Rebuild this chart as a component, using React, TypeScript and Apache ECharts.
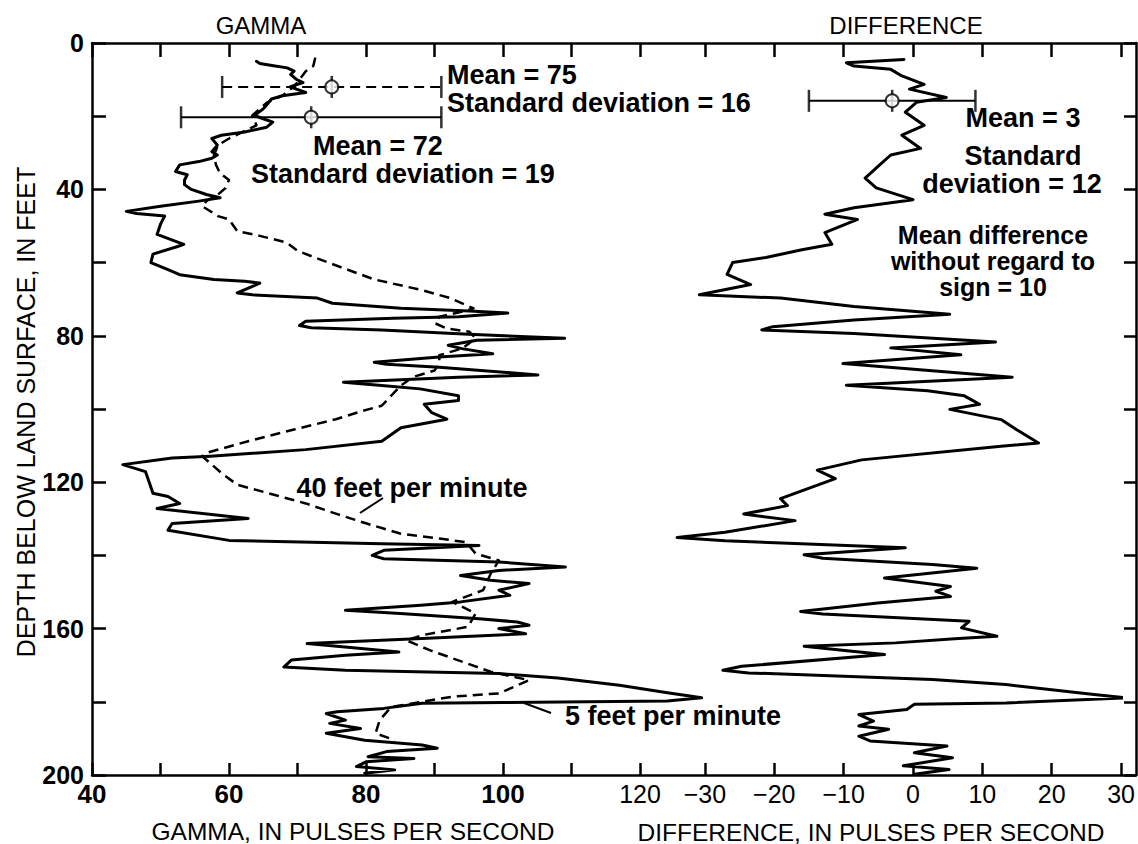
import React, { useEffect, useRef } from "react";
import * as echarts from "echarts";

const FONT = "'Liberation Sans', Arial, Helvetica, sans-serif";

// ---- data: [depth (feet), value] ----
// Gamma log run at 5 feet per minute (solid)
const gamma5ft: [number, number][] = [
  [5.0, 64.0], [5.6, 64.5], [6.2, 66.5], [6.8, 68.5], [7.7, 69.5], [8.6, 69.0], [9.9, 69.8],
  [10.8, 70.8], [12.0, 68.9], [13.5, 71.2], [14.4, 67.8], [15.3, 66.2], [16.7, 65.6], [18.0, 65.0],
  [19.8, 63.7], [20.7, 65.0], [21.6, 66.4], [23.0, 65.5], [24.3, 62.3], [25.2, 58.9], [26.1, 57.5],
  [27.9, 58.3], [29.7, 57.5], [30.6, 58.3], [31.5, 57.5], [32.4, 55.6], [33.3, 52.8], [35.1, 52.2],
  [36.0, 53.9], [37.5, 53.5], [38.7, 53.5], [40.0, 54.5], [41.4, 56.7], [42.3, 58.7], [43.2, 55.6],
  [44.6, 50.0], [46.0, 45.0], [46.6, 46.5], [47.3, 50.6], [49.5, 50.0], [52.3, 49.5], [55.0, 53.4],
  [55.6, 52.5], [57.7, 48.9], [60.0, 48.6], [61.9, 51.1], [63.3, 52.8], [64.6, 57.8], [65.1, 62.3],
  [65.6, 64.5], [68.3, 61.2], [68.8, 63.4], [69.7, 72.9], [71.1, 75.1], [72.5, 85.1], [73.2, 95.1],
  [73.8, 100.7], [74.8, 93.5], [75.2, 84.0], [76.0, 71.2], [77.2, 70.3], [77.8, 72.0], [78.4, 82.3],
  [79.6, 95.0], [80.7, 109.0], [81.2, 96.2], [82.6, 92.0], [83.5, 94.0], [84.9, 98.5], [85.8, 90.7],
  [87.2, 81.2], [87.8, 83.0], [88.6, 90.7], [90.7, 105.1], [91.3, 93.5], [92.7, 76.7], [93.6, 82.3],
  [94.5, 87.9], [96.4, 93.5], [97.7, 93.5], [98.7, 88.5], [101.0, 89.6], [102.8, 91.8], [105.1, 85.1],
  [108.8, 82.3], [111.1, 71.2], [112.9, 57.3], [113.4, 51.7], [115.2, 44.5], [117.1, 47.8],
  [120.3, 48.4], [123.0, 48.9], [123.9, 51.1], [125.8, 52.8], [127.2, 49.5], [129.9, 62.8],
  [131.3, 51.7], [133.1, 51.1], [135.9, 60.0], [136.8, 82.3], [137.3, 96.5], [138.6, 82.6],
  [140.0, 80.9], [140.9, 82.6], [141.8, 99.4], [143.2, 109.1], [144.1, 99.4], [145.5, 93.8],
  [146.8, 98.2], [147.7, 103.8], [149.5, 99.4], [150.9, 101.0], [152.7, 93.8], [153.6, 88.0],
  [155.0, 77.0], [155.9, 85.0], [157.3, 96.5], [158.2, 102.1], [159.1, 103.8], [160.0, 99.4],
  [161.4, 103.3], [162.7, 88.2], [164.1, 71.4], [166.4, 84.8], [167.3, 77.0], [168.6, 69.1],
  [170.5, 68.0], [171.4, 77.0], [172.3, 99.4], [173.5, 108.0], [175.5, 117.0], [177.5, 124.0],
  [178.9, 129.0], [179.8, 124.0], [180.2, 100.0], [180.4, 88.2], [181.8, 82.6], [182.7, 75.8],
  [183.2, 74.2], [185.0, 77.0], [185.9, 74.7], [187.3, 79.2], [188.6, 74.2], [190.5, 79.8],
  [191.8, 88.2], [192.7, 90.4], [193.6, 83.0], [195.0, 80.3], [195.5, 87.0], [196.4, 80.0],
  [197.7, 78.6], [198.6, 84.2], [199.5, 79.8],
];

// Gamma log run at 40 feet per minute (dashed)
const gamma40ft: [number, number][] = [
  [4.0, 72.6], [6.3, 72.3], [7.7, 71.2], [10.8, 70.0], [12.6, 69.0], [14.4, 67.8], [16.2, 65.6],
  [18.0, 64.5], [19.8, 63.4], [22.5, 64.0], [26.1, 60.0], [27.9, 58.4], [30.6, 57.8], [33.3, 58.1],
  [35.6, 58.7], [37.4, 60.0], [39.6, 59.5], [41.4, 58.4], [43.2, 56.7], [44.6, 56.1], [47.3, 58.4],
  [48.2, 60.0], [51.4, 61.2], [52.7, 64.5], [54.5, 68.4], [56.8, 70.0], [60.0, 74.5], [64.6, 81.2],
  [67.4, 87.9], [69.7, 92.3], [72.5, 95.7], [73.2, 94.5], [74.8, 90.7], [76.6, 90.1], [78.0, 91.8],
  [78.9, 95.1], [80.7, 96.0], [83.5, 94.0], [85.3, 90.7], [87.6, 90.7], [89.5, 90.0], [91.3, 86.8],
  [93.6, 85.1], [99.1, 82.3], [100.5, 79.5], [102.8, 75.6], [105.6, 69.5], [108.8, 62.8],
  [112.0, 56.7], [112.9, 56.1], [117.5, 58.9], [120.7, 61.2], [123.5, 66.7], [125.8, 71.2],
  [128.6, 75.6], [131.3, 80.1], [134.1, 85.1], [135.4, 90.7], [136.4, 94.6], [139.5, 96.0],
  [141.4, 99.4], [145.0, 98.2], [149.5, 97.1], [152.7, 92.6], [155.9, 96.0], [159.5, 94.9],
  [161.8, 88.2], [163.2, 85.9], [165.9, 89.3], [171.8, 98.2], [174.1, 103.8], [177.7, 99.4],
  [178.6, 92.6], [181.4, 83.7], [185.0, 82.0], [188.6, 81.4], [190.5, 84.2],
];

// Difference between the two logs
const difference: [number, number][] = [
  [4.5, -1.3], [5.4, -9.6], [6.3, -8.5], [7.2, -3.2], [9.0, -1.6], [11.3, 1.6], [12.6, -0.5],
  [14.9, 4.8], [16.2, 0.5], [18.9, -1.1], [22.5, 1.6], [25.2, -1.6], [28.8, 1.1], [30.6, -3.2],
  [33.3, -4.8], [36.9, -6.9], [39.6, -5.3], [42.8, 0.0], [45.0, -8.5], [46.8, -12.7], [48.2, -8.0],
  [51.8, -12.7], [55.0, -11.7], [56.5, -16.0], [58.6, -21.2], [60.0, -26.0], [63.2, -26.8],
  [66.0, -23.4], [68.8, -30.8], [69.7, -19.1], [72.0, -8.5], [74.1, 5.3], [75.7, -8.5],
  [77.5, -20.2], [78.4, -21.8], [79.4, -8.5], [81.7, 11.9], [83.3, -3.2], [85.2, 6.9],
  [87.6, -10.1], [91.3, 14.3], [93.5, -9.6], [95.0, 2.1], [96.4, 7.4], [98.7, 9.6], [100.1, 5.3],
  [102.9, 12.7], [105.6, 14.9], [109.3, 18.1], [110.2, 12.7], [113.9, -7.4], [116.7, -13.8],
  [119.0, -11.2], [124.5, -19.1], [126.4, -18.1], [128.7, -24.4], [130.5, -17.0], [133.7, -27.1],
  [135.1, -34.0], [136.0, -27.1], [137.9, -1.1], [139.8, -15.7], [140.8, -13.0], [142.5, 2.8],
  [143.5, 9.2], [146.2, -4.1], [148.5, 5.4], [149.8, 3.3], [151.2, 5.4], [153.0, -5.1],
  [155.3, -16.2], [156.0, -13.0], [158.0, 8.1], [159.8, 7.0], [162.1, 12.1], [162.8, 6.0],
  [163.9, -2.5], [164.8, -15.7], [166.2, -8.8], [167.1, -4.1], [170.3, -24.7], [171.4, -27.4],
  [172.1, -23.7], [173.9, 2.8], [175.3, 13.4], [178.0, 26.1], [178.9, 30.8], [180.3, 13.4],
  [180.7, 0.2], [182.1, -0.9], [183.5, -7.8], [185.3, -5.7], [186.6, -7.8], [187.5, -3.5],
  [189.4, -7.8], [190.7, -6.2], [192.1, 4.9], [193.9, 0.2], [195.3, 5.7], [197.5, -1.4],
  [198.5, 5.2], [199.8, 0.2],
];

// Summary statistics drawn as bars: centre, spread, depth of the bar
const fastMean = 75, fastSD = 16, fastDepth = 12;
const slowMean = 72, slowSD = 19, slowDepth = 20.3;
const diffCenter = -3, diffSD = 12, diffDepth = 15.8;

// axis ticks / labels
const gammaTickValues = [40, 50, 60, 70, 80, 90, 100, 110, 120];
const gammaLabelValues = [40, 60, 80, 100, 120];
const diffTickValues = [-30, -20, -10, 0, 10, 20, 30];
const depthTickValues = [0, 20, 40, 60, 80, 100, 120, 140, 160, 180, 200];
const depthLabelValues = [0, 40, 80, 120, 160, 200];

const toXY = (arr: [number, number][]) => arr.map(([d, v]) => [v, d]);

const BLACK = "#000";

function errorBar(mean: number, sd: number, depth: number, xi: number, yi: number, dashed: boolean) {
  return [
    {
      type: "line", xAxisIndex: xi, yAxisIndex: yi, z: 5, silent: true,
      showSymbol: false, data: [[mean - sd, depth], [mean + sd, depth]],
      lineStyle: { color: BLACK, width: 2, type: dashed ? [10, 6] : "solid" },
    },
    {
      type: "scatter", xAxisIndex: xi, yAxisIndex: yi, z: 6, silent: true,
      symbol: "rect", symbolSize: [2.5, 22],
      data: [[mean - sd, depth], [mean + sd, depth], [mean, depth]],
      itemStyle: { color: BLACK },
    },
    {
      type: "scatter", xAxisIndex: xi, yAxisIndex: yi, z: 7, silent: true,
      symbol: "circle", symbolSize: 13, data: [[mean, depth]],
      itemStyle: { color: "#fff", borderColor: BLACK, borderWidth: 2 },
    },
  ];
}

function txt(text: string, x: number, y: number, size: number, bold: boolean, align = "left",
  rotation = 0, lineHeight?: number, rich?: any) {
  return {
    type: "text", x, y, rotation, z: 20, silent: true,
    style: {
      text, fill: BLACK, font: `${bold ? "bold " : ""}${size}px ${FONT}`,
      fontSize: size, fontWeight: bold ? "bold" : "normal", fontFamily: FONT,
      lineHeight: lineHeight ?? size, rich,
      align, verticalAlign: "middle", textAlign: align, textVerticalAlign: "middle",
    },
  };
}

export default function App() {
  const ref = useRef<HTMLDivElement>(null);
  useEffect(() => {
    if (!ref.current) return;
    const chart = echarts.init(ref.current, undefined, { renderer: "svg" });
    const tick = (len: number, values: number[]) => ({
      show: true, inside: true, length: len, customValues: values,
      lineStyle: { color: BLACK, width: 2.5 },
    });
    const noLine = { show: false, onZero: false };
    const frameLine = { show: true, onZero: false, lineStyle: { color: BLACK, width: 2.5 } };
    const rb = (size: number, lh: number, pad?: number[]) => ({
      fontSize: size, fontWeight: "bold", fontFamily: FONT, color: BLACK, lineHeight: lh,
      padding: pad ?? [0, 0, 0, 0],
    });
    const option: any = {
      animation: false,
      backgroundColor: "#fff",
      grid: [
        // gamma panel: 40..130 (120 is the last tick; the panel gap takes the rest)
        { left: 92, top: 43, width: 616.5, height: 732 },
        // difference panel: -40..30 (-30 is the first tick)
        { left: 635.5, top: 43, width: 486.5, height: 732 },
        // frame
        { left: 92, top: 43, width: 1044, height: 732 },
      ],
      xAxis: [
        {
          gridIndex: 0, type: "value", position: "bottom", min: 40, max: 130,
          axisLine: noLine, axisTick: tick(12, gammaTickValues), splitLine: { show: false },
          axisLabel: {
            margin: 6, customValues: gammaLabelValues,
            formatter: (v: number) => (v === 120 ? `{r|${v}}` : `{b|${v}}`),
            rich: {
              b: { fontWeight: "bold", fontSize: 26, fontFamily: FONT, color: BLACK },
              r: { fontSize: 25, fontFamily: FONT, color: BLACK },
            },
          },
        },
        {
          gridIndex: 0, type: "value", position: "top", min: 40, max: 130,
          axisLine: noLine, axisTick: tick(14, gammaTickValues), splitLine: { show: false },
          axisLabel: { show: false },
        },
        {
          gridIndex: 1, type: "value", position: "bottom", min: -40, max: 30,
          axisLine: noLine, axisTick: tick(12, diffTickValues), splitLine: { show: false },
          axisLabel: {
            margin: 6, customValues: diffTickValues, fontSize: 25, fontFamily: FONT, color: BLACK,
            formatter: (v: number) => String(v).replace("-", "\u2212"),
          },
        },
        {
          gridIndex: 1, type: "value", position: "top", min: -40, max: 30,
          axisLine: noLine, axisTick: tick(14, diffTickValues), splitLine: { show: false },
          axisLabel: { show: false },
        },
        {
          gridIndex: 2, type: "value", position: "bottom", min: 0, max: 1,
          axisLine: frameLine, axisTick: { show: false }, splitLine: { show: false }, axisLabel: { show: false },
        },
        {
          gridIndex: 2, type: "value", position: "top", min: 0, max: 1,
          axisLine: frameLine, axisTick: { show: false }, splitLine: { show: false }, axisLabel: { show: false },
        },
      ],
      yAxis: [
        {
          gridIndex: 0, type: "value", position: "left", inverse: true, min: 0, max: 200,
          axisLine: frameLine, axisTick: tick(14, depthTickValues), splitLine: { show: false },
          axisLabel: {
            margin: 8, customValues: depthLabelValues, fontSize: 25, fontWeight: "bold",
            fontFamily: FONT, color: BLACK,
          },
        },
        { gridIndex: 1, type: "value", inverse: true, min: 0, max: 200, show: false },
        {
          gridIndex: 2, type: "value", position: "right", inverse: true, min: 0, max: 200,
          axisLine: frameLine, axisTick: tick(12, depthTickValues), splitLine: { show: false },
          axisLabel: { show: false },
        },
      ],
      series: [
        {
          type: "line", xAxisIndex: 0, yAxisIndex: 0, data: toXY(gamma40ft), showSymbol: false,
          silent: true, z: 3,
          lineStyle: { color: BLACK, width: 2.5, type: [10, 6], join: "round" },
        },
        {
          type: "line", xAxisIndex: 0, yAxisIndex: 0, data: toXY(gamma5ft), showSymbol: false,
          silent: true, z: 4,
          lineStyle: { color: BLACK, width: 3, join: "round", cap: "round" },
        },
        {
          type: "line", xAxisIndex: 2, yAxisIndex: 1, data: toXY(difference), showSymbol: false,
          silent: true, z: 4,
          lineStyle: { color: BLACK, width: 3, join: "round", cap: "round" },
        },
        ...errorBar(fastMean, fastSD, fastDepth, 0, 0, true),
        ...errorBar(slowMean, slowSD, slowDepth, 0, 0, false),
        ...errorBar(diffCenter, diffSD, diffDepth, 2, 1, false),
      ],
      graphic: [
        txt("GAMMA", 261, 25, 24, false, "center"),
        txt("DIFFERENCE", 906, 25, 24, false, "center"),
        txt("GAMMA, IN PULSES PER SECOND", 353, 831, 24.5, false, "center"),
        txt("DIFFERENCE, IN PULSES PER SECOND", 871, 832, 24.5, false, "center"),
        txt("DEPTH BELOW LAND SURFACE, IN FEET", 26, 412, 25, false, "center", Math.PI / 2),
        txt("Mean = 75\nStandard deviation = 16", 447, 88.5, 27, true, "left", 0, 28),
        txt("{a|Mean = 72}\n{b|Standard deviation = 19}", 251, 159.5, 27, true, "left", 0, 28, {
          a: rb(27, 28, [0, 0, 0, 62]), b: rb(27, 28),
        }),
        txt("Mean = 3", 1023, 118, 27, true, "center"),
        txt("{a|Standard}\n{b|deviation = 12}", 1012, 169.5, 27, true, "center", 0, 28, {
          a: rb(27, 28, [0, 0, 0, 22]), b: rb(27, 28),
        }),
        txt("Mean difference\nwithout regard to\nsign = 10", 993, 260.5, 25, true, "center", 0, 26),
        txt("40 feet per minute", 412, 488, 27, true, "center"),
        txt("5 feet per minute", 673, 716, 27, true, "center"),
        { type: "line", z: 20, silent: true, shape: { x1: 383, y1: 498, x2: 360, y2: 513 }, style: { stroke: BLACK, lineWidth: 2 } },
        { type: "line", z: 20, silent: true, shape: { x1: 524, y1: 703, x2: 551, y2: 713 }, style: { stroke: BLACK, lineWidth: 2 } },
      ],
    };
    chart.setOption(option);
    return () => chart.dispose();
  }, []);
  return (
    <div
      ref={ref}
      style={{ position: "fixed", left: 0, top: 0, width: 1138, height: 844, background: "#fff" }}
    />
  );
}
